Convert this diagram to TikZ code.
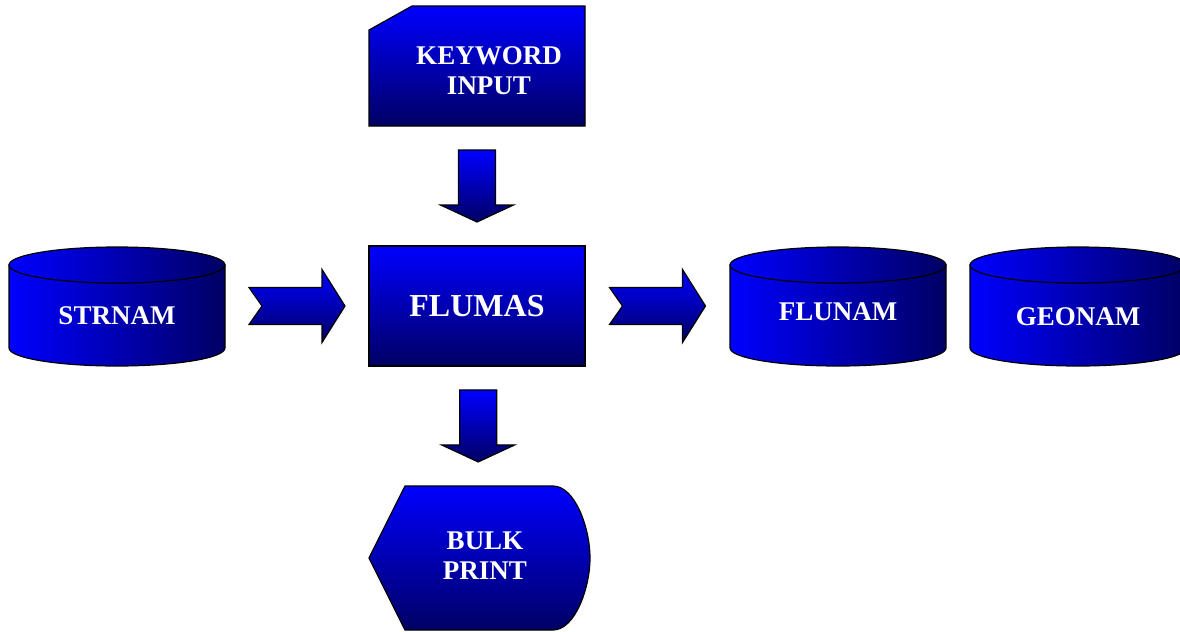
\documentclass[tikz,border=0pt]{standalone}
\usepackage{fontspec}
\setmainfont{Liberation Serif}
\usepackage{tikz}
\usepackage{xcolor}
\usetikzlibrary{calc, positioning}

\definecolor{brightblue}{RGB}{0,0,255}
\definecolor{darknavy}{RGB}{0,0,100}

\tikzset{
    vshade/.style={draw=black, line width=0.6pt, top color=brightblue, bottom color=darknavy},
    hshade/.style={draw=black, line width=0.6pt, left color=brightblue, right color=darknavy},
    caption/.style={text=white, font=\bfseries\fontsize{13.5}{15}\selectfont, align=center, inner sep=0pt},
    card/.pic={\path[vshade] (-108,-36) -- (-65,-60) -- (108,-60) -- (108,60) -- (-108,60) -- cycle;},
    box/.pic={\path[vshade] (-108,-60) rectangle (108,60);},
    display/.pic={\path[vshade] (-110.5,0) -- (-74.5,-72) -- (73.5,-72)
        .. controls (95.5,-72) and (110.5,-30) .. (110.5,0)
        .. controls (110.5,30) and (95.5,72) .. (73.5,72) -- (-74.5,72) -- cycle;},
    drum/.pic={
        \path[hshade] (-108,-41) -- (-108,42) arc[start angle=180, end angle=0, x radius=108, y radius=18] -- (108,-41) -- cycle;
        \path[hshade] (0,-41) ellipse [x radius=108, y radius=18];},
    downarrow/.pic={\path[vshade] (-18.5,-36) -- (18.5,-36) -- (18.5,19) -- (36.5,19) -- (0,36) -- (-36.5,19) -- (-18.5,19) -- cycle;},
    notcharrow/.pic={\path[vshade] (-48,-18.5) -- (25,-18.5) -- (25,-36.5) -- (48,0) -- (25,36.5) -- (25,18.5) -- (-48,18.5) -- (-35,0) -- cycle;}
}

\begin{document}
\begin{tikzpicture}[x=0.5pt, y=-0.5pt]
    \useasboundingbox (0,0) rectangle (1180,632);
    \coordinate (keywordc) at (477,66);
    \coordinate (flumasc) at (477,306);
    \coordinate (bulkprintc) at (479.5,558);
    \coordinate (strnamc) at (117,306);
    \coordinate (flunamc) at (838,306);
    \coordinate (geonamc) at (1078,306);
    \pic at (keywordc) {card};
    \pic at (flumasc) {box};
    \pic at (bulkprintc) {display};
    \pic at (strnamc) {drum};
    \pic at (flunamc) {drum};
    \pic at (geonamc) {drum};
    \node[caption] (keyword) at ([shift={(12,5)}]keywordc) {KEYWORD\\INPUT};
    \node[caption, font=\bfseries\fontsize{16}{18}\selectfont] (flumas) at (flumasc) {FLUMAS};
    \node[caption] (bulkprint) at ([shift={(5.5,-2.5)}]bulkprintc) {BULK\\PRINT};
    \node[caption] (strnam) at ([shift={(0,10)}]strnamc) {STRNAM};
    \node[caption] (flunam) at ([shift={(0,6)}]flunamc) {FLUNAM};
    \node[caption] (geonam) at ([shift={(0,11)}]geonamc) {GEONAM};
    \pic at ($(keywordc)!0.5!(flumasc)$) {downarrow};
    \pic at ($(flumasc)!0.476!(bulkprintc)$) {downarrow};
    \pic at ($(strnamc)!0.5!(flumasc)$) {notcharrow};
    \pic at ($(flumasc)!0.5!(flunamc)$) {notcharrow};
\end{tikzpicture}
\end{document}
